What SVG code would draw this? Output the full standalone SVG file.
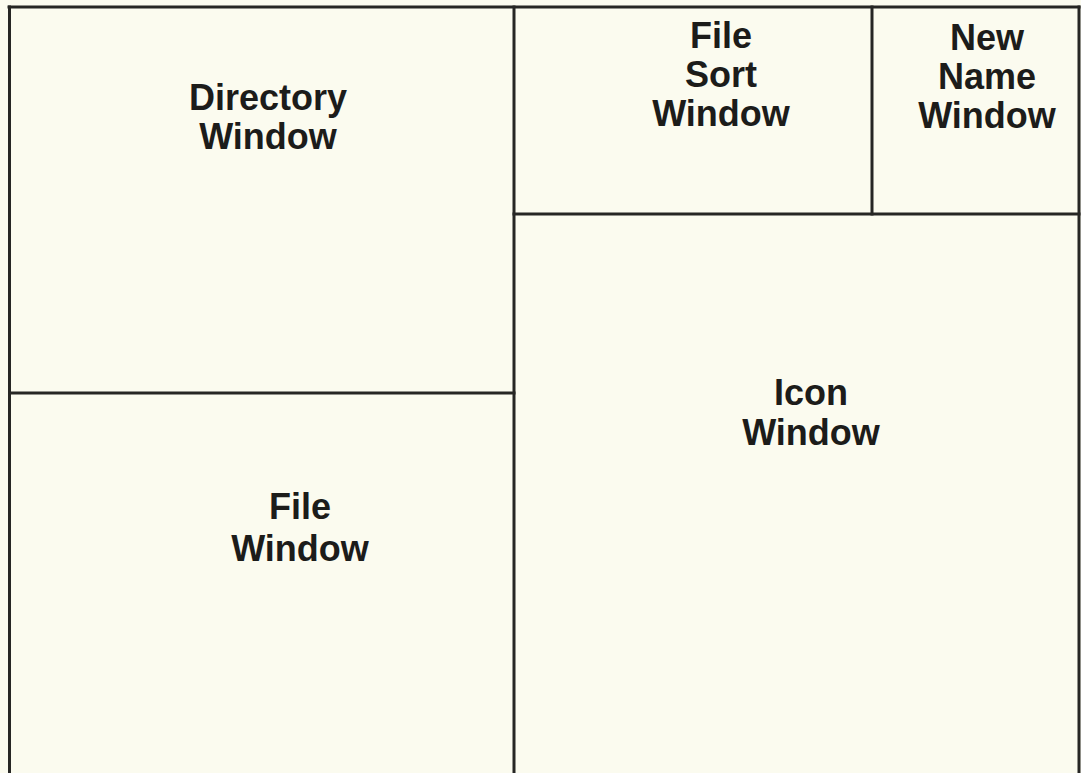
<svg xmlns="http://www.w3.org/2000/svg" width="1081" height="773" viewBox="0 0 1081 773">
  <style>
    .bg { fill: #fbfbef; }
    .rule { stroke: #262624; stroke-width: 3; fill: none; stroke-linecap: square; }
    .label { font-family: "Liberation Sans", Arial, Helvetica, sans-serif; font-size: 36px; font-weight: bold; fill: #1c1c1a; text-anchor: middle; }
    .cell { fill: none; }
  </style>
  <rect class="bg" x="0" y="0" width="1081" height="773"/>

  <!-- window borders -->
  <g id="connectors">
    <line class="rule" x1="9" y1="7" x2="1079" y2="7"/>
    <line class="rule" x1="9.5" y1="7" x2="9.5" y2="775"/>
    <line class="rule" x1="1079" y1="7" x2="1079" y2="775"/>
    <line class="rule" x1="514" y1="7" x2="514" y2="775"/>
    <line class="rule" x1="9.5" y1="393" x2="514" y2="393"/>
    <line class="rule" x1="514" y1="214" x2="1079" y2="214"/>
    <line class="rule" x1="872" y1="7" x2="872" y2="214"/>
  </g>

  <g id="directory-window">
    <rect class="cell" x="9.5" y="7" width="504.5" height="386"/>
    <text class="label" x="268" y="110">Directory</text>
    <text class="label" x="268" y="149">Window</text>
  </g>

  <g id="file-window">
    <rect class="cell" x="9.5" y="393" width="504.5" height="380"/>
    <text class="label" x="300" y="519">File</text>
    <text class="label" x="300" y="561">Window</text>
  </g>

  <g id="file-sort-window">
    <rect class="cell" x="514" y="7" width="358" height="207"/>
    <text class="label" x="721" y="48">File</text>
    <text class="label" x="721" y="87">Sort</text>
    <text class="label" x="721" y="126">Window</text>
  </g>

  <g id="new-name-window">
    <rect class="cell" x="872" y="7" width="207" height="207"/>
    <text class="label" x="987" y="50">New</text>
    <text class="label" x="987" y="89">Name</text>
    <text class="label" x="987" y="128">Window</text>
  </g>

  <g id="icon-window">
    <rect class="cell" x="514" y="214" width="565" height="559"/>
    <text class="label" x="811" y="405">Icon</text>
    <text class="label" x="811" y="445">Window</text>
  </g>
</svg>
